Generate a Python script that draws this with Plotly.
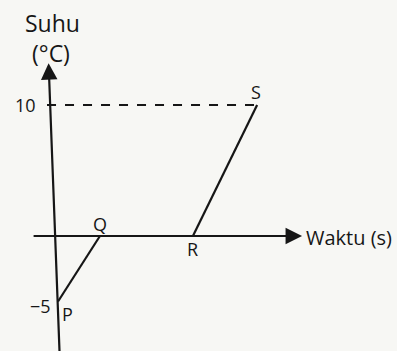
import plotly.graph_objects as go

# Data (time in arbitrary units, temperature in °C)
point_labels = ["P", "Q", "R", "S"]
time_vals = [0, 3.2, 10.3, 15.2]
temp_vals = [-5, 0, 0, 10]
y_tick_vals = [10, -5]
y_tick_text = ["10", "\u22125"]

ink = "#161616"
bg = "#f7f7f4"
fam = "Open Sans, Liberation Sans, sans-serif"
font_lbl = dict(family=fam, size=18, color=ink)
font_ttl = dict(family=fam, size=23, color=ink)
font_xt = dict(family=fam, size=20, color=ink)

fig = go.Figure()

# Graph segments P-Q and R-S
fig.add_trace(go.Scatter(x=time_vals[0:2], y=temp_vals[0:2], mode="lines",
                         line=dict(color=ink, width=2.2), hoverinfo="skip"))
fig.add_trace(go.Scatter(x=time_vals[2:4], y=temp_vals[2:4], mode="lines",
                         line=dict(color=ink, width=2.2), hoverinfo="skip"))
# Dashed guide at 10
fig.add_trace(go.Scatter(x=[-0.84, time_vals[3]], y=[temp_vals[3], temp_vals[3]], mode="lines",
                         line=dict(color=ink, width=2, dash="dash"), hoverinfo="skip"))

# Axes with arrows (the vertical axis in the scan leans slightly)
fig.add_annotation(x=-0.72, y=13.2, ax=0.14, ay=-9.5, xref="x", yref="y", axref="x", ayref="y",
                   showarrow=True, arrowhead=2, arrowsize=1.5, arrowwidth=2.2, arrowcolor=ink, text="")
fig.add_annotation(x=18.63, y=0, ax=-1.98, ay=0, xref="x", yref="y", axref="x", ayref="y",
                   showarrow=True, arrowhead=2, arrowsize=1.5, arrowwidth=2.2, arrowcolor=ink, text="")

# Point labels
offsets = {"P": (0.69, -0.95), "Q": (0.0, 0.92), "R": (0.0, -1.0), "S": (-0.1, 1.0)}
for lab, xv, yv in zip(point_labels, time_vals, temp_vals):
    dx, dy = offsets[lab]
    fig.add_annotation(x=xv + dx, y=yv + dy, text=lab, showarrow=False, font=font_lbl)

# Y tick labels
fig.add_annotation(x=-2.52, y=y_tick_vals[0], text=y_tick_text[0], showarrow=False,
                   font=font_lbl)
fig.add_annotation(x=-0.38, y=y_tick_vals[1] - 0.35, text=y_tick_text[1], showarrow=False,
                   xanchor="right", font=font_lbl)

# Axis titles
fig.add_annotation(x=-0.46, y=16.3, text="Suhu", showarrow=False, font=font_ttl)
fig.add_annotation(x=-0.53, y=13.95, text="(°C)", showarrow=False, font=font_ttl)
fig.add_annotation(x=18.75, y=-0.08, text="Waktu (s)", showarrow=False, xanchor="left", font=font_xt)

fig.update_xaxes(range=[-4.43, 25.88], visible=False)
fig.update_yaxes(range=[-8.78, 18.02], visible=False)
fig.update_layout(width=397, height=351, margin=dict(l=0, r=0, t=0, b=0),
                  paper_bgcolor=bg, plot_bgcolor=bg, showlegend=False)

fig.write_html("out.html", config={"displayModeBar": False},
               post_script="document.body.style.margin='0px';document.body.style.background='%s';" % bg)
